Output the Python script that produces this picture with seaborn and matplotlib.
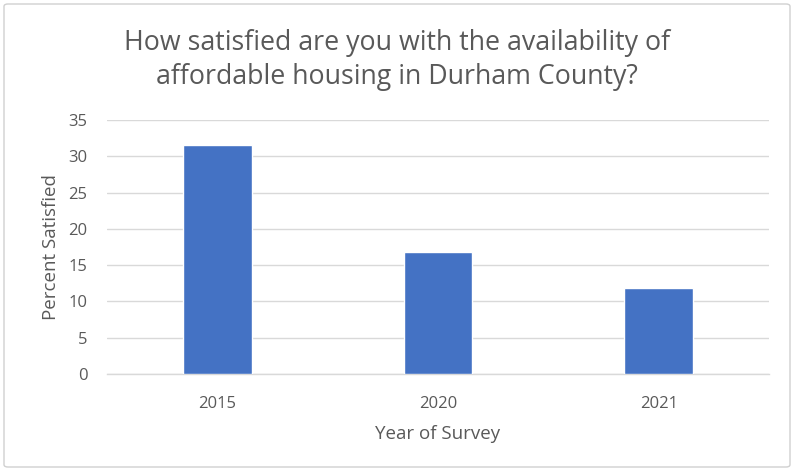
import matplotlib
matplotlib.use("Agg")
import matplotlib.pyplot as plt
import seaborn as sns
import pandas as pd
from matplotlib.patches import FancyBboxPatch

years = ["2015", "2020", "2021"]
percent = [31.5, 16.8, 11.9]
yticks = [0, 5, 10, 15, 20, 25, 30, 35]

sns.set_style("white")
plt.rcParams['font.family'] = ['Open Sans', 'DejaVu Sans']

df = pd.DataFrame({"Year": years, "Percent": percent})

fig = plt.figure(figsize=(7.94, 4.71), dpi=100)
ax = fig.add_axes([107/794, 1-374/471, (769-107)/794, (374-120)/471])
sns.barplot(data=df, x="Year", y="Percent", color="#4472C4", width=0.31,
            saturation=1, ax=ax, zorder=3)
ax.set_ylim(0, 35)
ax.set_yticks(yticks)
ax.set_yticklabels([str(t) for t in yticks])
ax.grid(axis="y", color="#d9d9d9", linewidth=1, zorder=0)
ax.set_axisbelow(True)
for s in ["top", "right", "left"]:
    ax.spines[s].set_visible(False)
ax.spines["bottom"].set_color("#d9d9d9")
ax.spines["bottom"].set_linewidth(1)
ax.tick_params(axis="both", length=0, labelsize=12, labelcolor="#595959")
ax.tick_params(axis="x", pad=16)
ax.tick_params(axis="y", pad=14)
ax.set_xlabel("Year of Survey", fontsize=13.5, color="#595959", labelpad=9)
ax.set_ylabel("Percent Satisfied", fontsize=13.5, color="#595959", labelpad=6)

fig.text(0.5, 1-60/471, "How satisfied are you with the availability of\naffordable housing in Durham County?",
         ha="center", va="center", fontsize=19.3, color="#595959", linespacing=1.3)

border = FancyBboxPatch((4/794, 4/471), 786/794, 463/471, boxstyle="round,pad=0,rounding_size=0.005",
                        transform=fig.transFigure, fill=False, edgecolor="#d0d0d0", linewidth=1)
fig.patches.append(border)

fig.savefig("out.png", dpi=100)
